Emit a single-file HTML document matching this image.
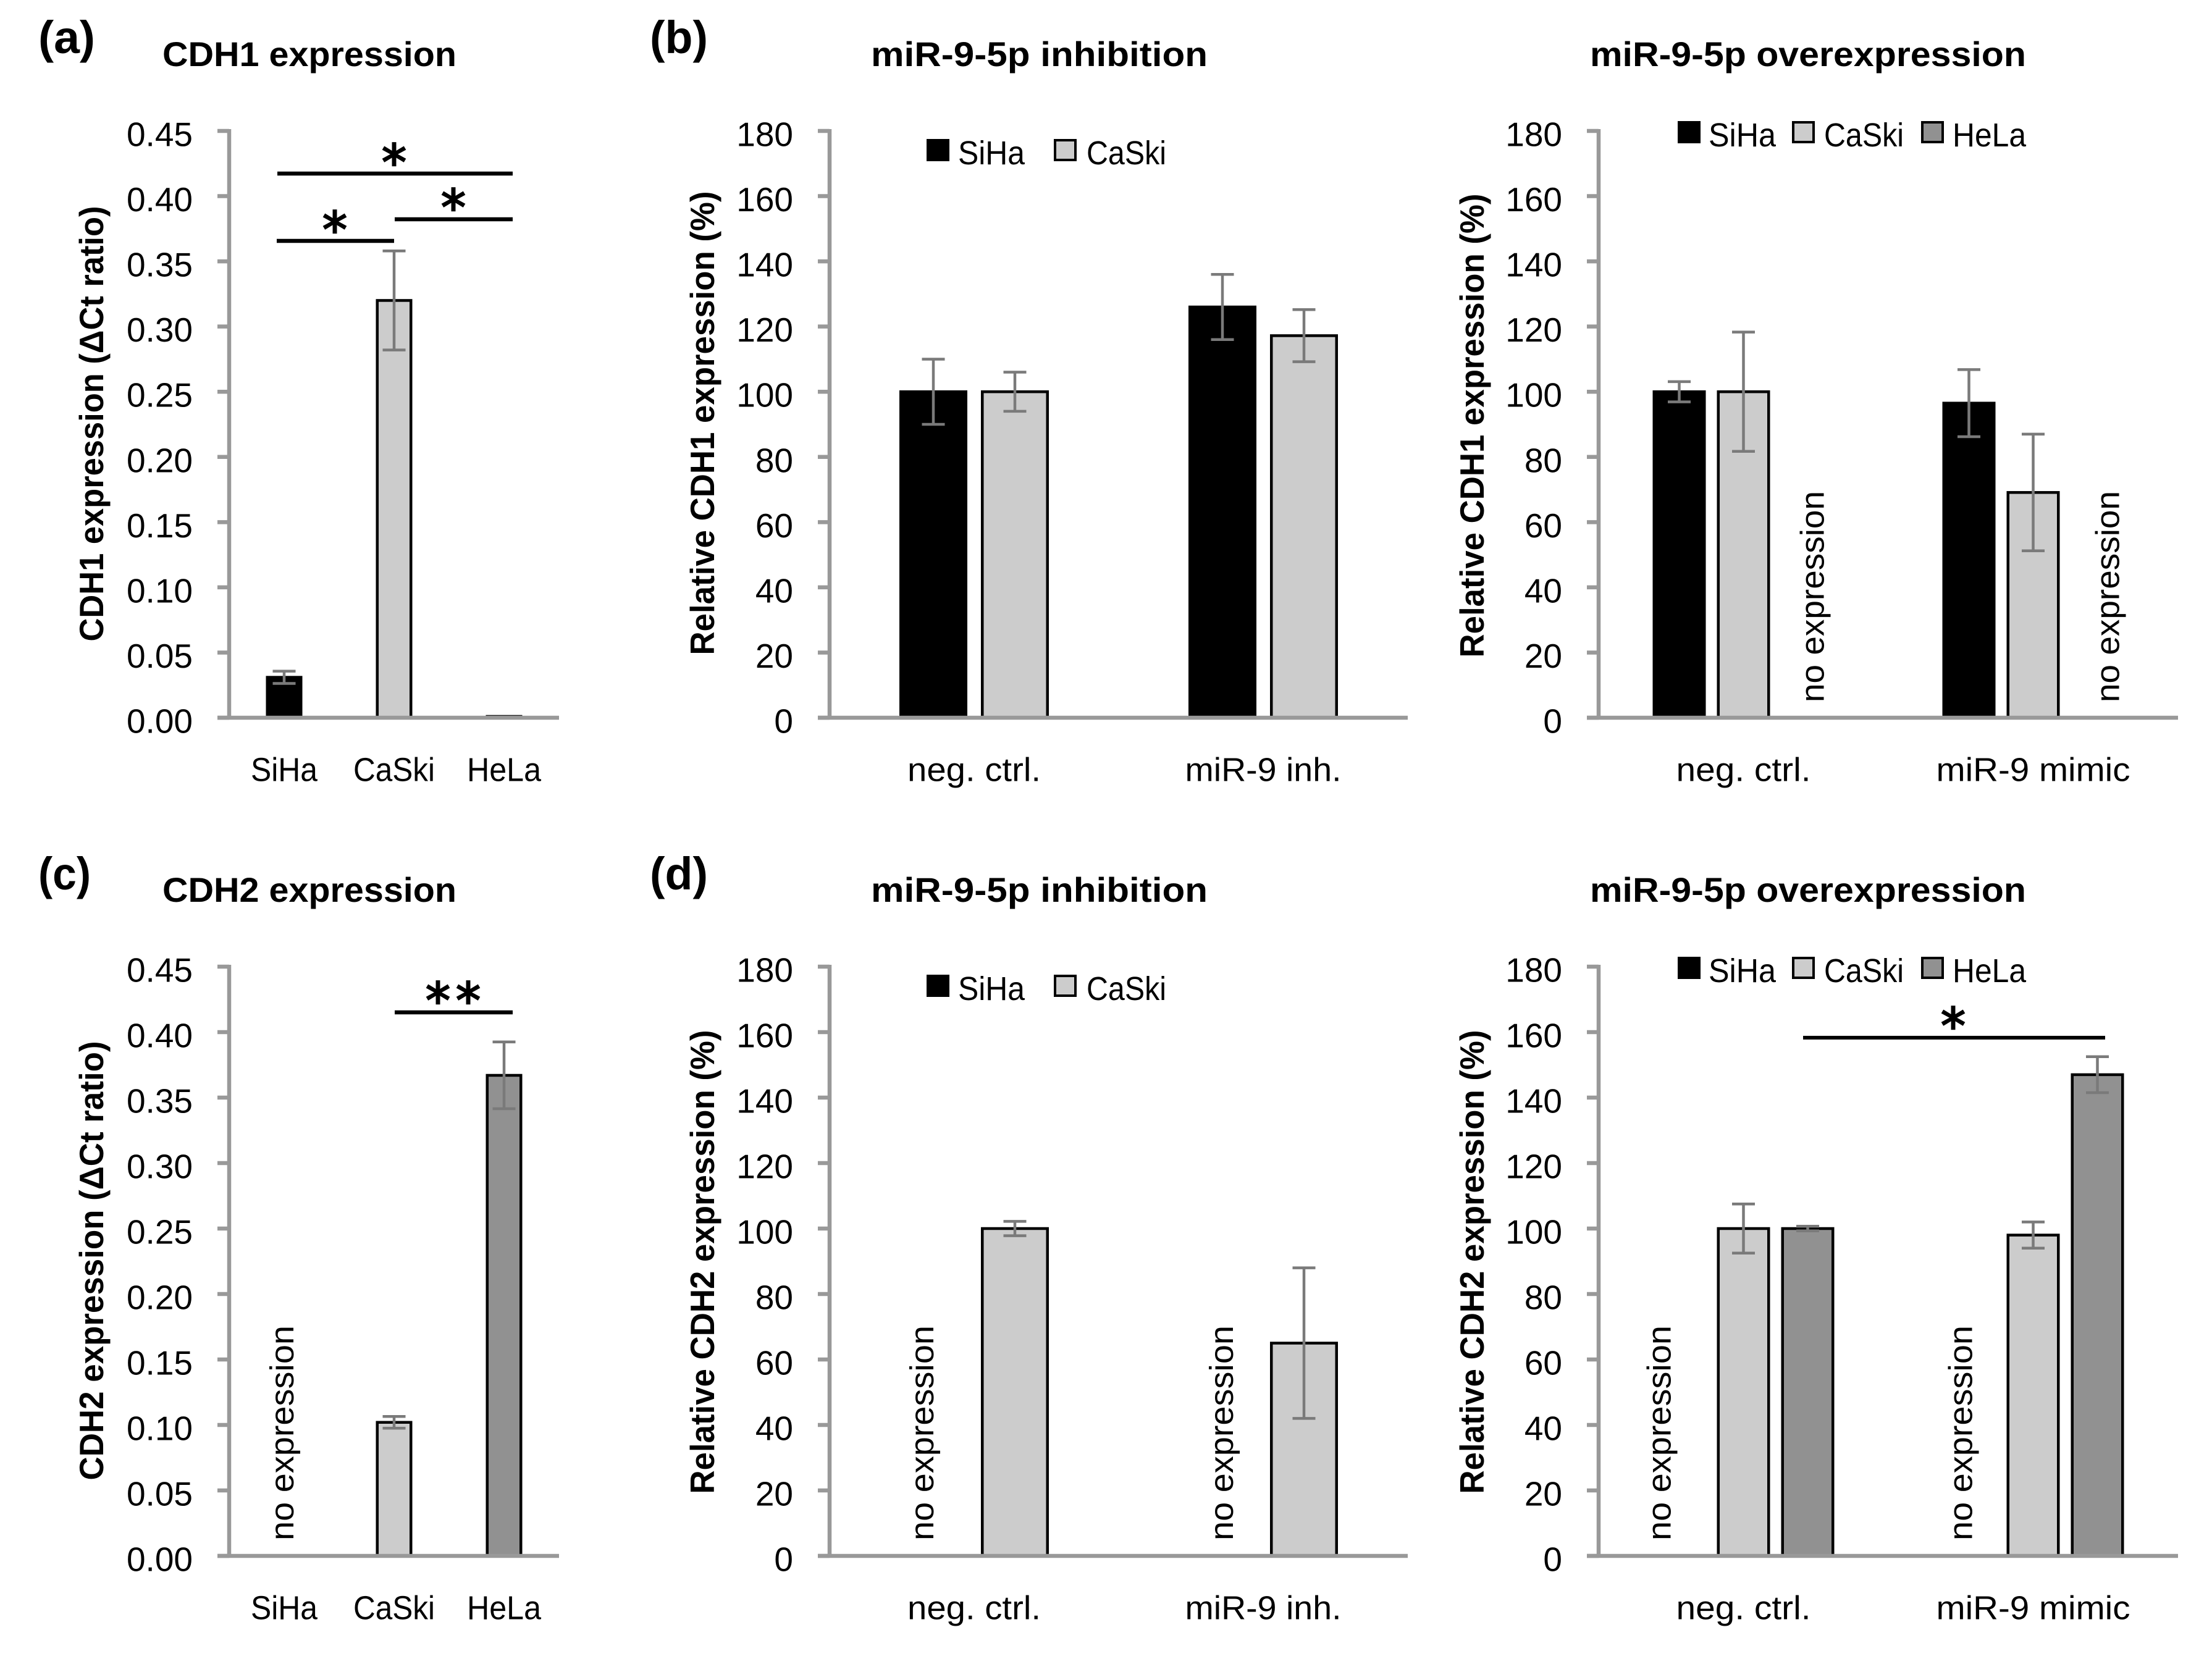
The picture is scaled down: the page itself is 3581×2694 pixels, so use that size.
<!DOCTYPE html>
<html lang="en">
<head>
<meta charset="utf-8">
<title>CDH1 and CDH2 expression charts</title>
<style>
html,body{margin:0;padding:0;background:#fff;}
svg{display:block;}
text{font-family:"Liberation Sans",sans-serif;fill:#000;}
.title,.ylabel,.plabel{font-weight:bold;}
.star{font-family:"DejaVu Sans",sans-serif;font-size:80px;text-anchor:middle;stroke:#000;stroke-width:2.5px;}
</style>
</head>
<body>
<svg id="figure" xmlns="http://www.w3.org/2000/svg" width="3581" height="2694" viewBox="0 0 3581 2694">
  <rect width="3581" height="2694" fill="#ffffff"/>

  <text class="plabel" x="62" y="86" font-size="74" textLength="92" lengthAdjust="spacingAndGlyphs">(a)</text>
  <text class="plabel" x="1052" y="86" font-size="74" textLength="94" lengthAdjust="spacingAndGlyphs">(b)</text>
  <text class="plabel" x="62" y="1440" font-size="74" textLength="85" lengthAdjust="spacingAndGlyphs">(c)</text>
  <text class="plabel" x="1052" y="1440" font-size="74" textLength="94" lengthAdjust="spacingAndGlyphs">(d)</text>

  <text class="title" x="263" y="107" font-size="56" textLength="476" lengthAdjust="spacingAndGlyphs">CDH1 expression</text>
  <text class="title" x="1410" y="107" font-size="56" textLength="545" lengthAdjust="spacingAndGlyphs">miR-9-5p inhibition</text>
  <text class="title" x="2574" y="107" font-size="56" textLength="706" lengthAdjust="spacingAndGlyphs">miR-9-5p overexpression</text>
  <text class="title" x="263" y="1460" font-size="56" textLength="476" lengthAdjust="spacingAndGlyphs">CDH2 expression</text>
  <text class="title" x="1410" y="1460" font-size="56" textLength="545" lengthAdjust="spacingAndGlyphs">miR-9-5p inhibition</text>
  <text class="title" x="2574" y="1460" font-size="56" textLength="706" lengthAdjust="spacingAndGlyphs">miR-9-5p overexpression</text>

  <text class="ylabel" transform="translate(167,686) rotate(-90)" text-anchor="middle" font-size="55" textLength="705" lengthAdjust="spacingAndGlyphs">CDH1 expression (ΔCt ratio)</text>
  <text class="ylabel" transform="translate(1156,685) rotate(-90)" text-anchor="middle" font-size="55" textLength="751" lengthAdjust="spacingAndGlyphs">Relative CDH1 expression (%)</text>
  <text class="ylabel" transform="translate(2402,689) rotate(-90)" text-anchor="middle" font-size="55" textLength="751" lengthAdjust="spacingAndGlyphs">Relative CDH1 expression (%)</text>
  <text class="ylabel" transform="translate(167,2041) rotate(-90)" text-anchor="middle" font-size="55" textLength="711" lengthAdjust="spacingAndGlyphs">CDH2 expression (ΔCt ratio)</text>
  <text class="ylabel" transform="translate(1156,2043) rotate(-90)" text-anchor="middle" font-size="55" textLength="751" lengthAdjust="spacingAndGlyphs">Relative CDH2 expression (%)</text>
  <text class="ylabel" transform="translate(2402,2043) rotate(-90)" text-anchor="middle" font-size="55" textLength="751" lengthAdjust="spacingAndGlyphs">Relative CDH2 expression (%)</text>

  <g id="panels"></g>

  <g stroke="#000" stroke-width="6.5">
    <line x1="449" y1="281" x2="830" y2="281"/>
    <line x1="639" y1="355" x2="830" y2="355"/>
    <line x1="448" y1="390" x2="638" y2="390"/>
  </g>
  <text class="star" x="638" y="291">*</text>
  <text class="star" x="734" y="364">*</text>
  <text class="star" x="542" y="400">*</text>

  <line x1="639" y1="1639" x2="830" y2="1639" stroke="#000" stroke-width="6.5"/>
  <text class="star" x="709" y="1648">*</text>
  <text class="star" x="758" y="1648">*</text>

  <line x1="2919" y1="1680" x2="3408" y2="1680" stroke="#000" stroke-width="6"/>
  <text class="star" x="3162" y="1689">*</text>
</svg>

<script>
// Tick labels
const ratioTicks = ['0.00','0.05','0.10','0.15','0.20','0.25','0.30','0.35','0.40','0.45'];
const percentTicks = ['0','20','40','60','80','100','120','140','160','180'];

// Categories
const cellLines = ['SiHa','CaSki','HeLa'];
const inhibitionCategories = ['neg. ctrl.','miR-9 inh.'];
const mimicCategories = ['neg. ctrl.','miR-9 mimic'];

// Panel (a) CDH1 baseline
const cdh1BaselineValues = [0.031, 0.32, 0.001];
const cdh1BaselineErrors = [0.0047, 0.038, 0];

// Panel (c) CDH2 baseline
const cdh2BaselineValues = [null, 0.102, 0.367];
const cdh2BaselineErrors = [null, 0.0045, 0.0255];

// Panel (b) CDH1 inhibition
const cdh1InhSiHa = [100, 126];
const cdh1InhSiHaErr = [10, 10];
const cdh1InhCaSki = [100, 117.2];
const cdh1InhCaSkiErr = [6, 8];

// Panel (b) CDH1 overexpression
const cdh1MimicSiHa = [100, 96.5];
const cdh1MimicSiHaErr = [3.1, 10.3];
const cdh1MimicCaSki = [100, 69.1];
const cdh1MimicCaSkiErr = [18.3, 17.9];
const cdh1MimicHeLa = [null, null];
const cdh1MimicHeLaErr = [null, null];

// Panel (d) CDH2 inhibition
const cdh2InhSiHa = [null, null];
const cdh2InhSiHaErr = [null, null];
const cdh2InhCaSki = [100, 65];
const cdh2InhCaSkiErr = [2.2, 23];

// Panel (d) CDH2 overexpression
const cdh2MimicSiHa = [null, null];
const cdh2MimicSiHaErr = [null, null];
const cdh2MimicCaSki = [100, 98];
const cdh2MimicCaSkiErr = [7.5, 4];
const cdh2MimicHeLa = [100, 147];
const cdh2MimicHeLaErr = [0.7, 5.5];

const BLACK = '#000000', GRAY = '#cccccc', DARK = '#919191';
const NS = 'http://www.w3.org/2000/svg';
const root = document.getElementById('panels');

function make(tag, attrs, parent) {
  const el = document.createElementNS(NS, tag);
  for (const k in attrs) el.setAttribute(k, attrs[k]);
  parent.appendChild(el);
  return el;
}

function drawPanel(p) {
  const g = make('g', {}, root);
  
  

  const maxVal = Number(p.ticks[p.ticks.length - 1]);
  const yScale = v => p.yBottom - (v / maxVal) * (p.yBottom - p.yTop);
  const catW = (p.x1 - p.x0) / p.categories.length;
  const catCenter = i => p.x0 + catW * (i + 0.5);
  const slots = p.series.length;
  const groupW = slots * p.barW + (slots - 1) * p.gap;
  const slotX = (c, s) => catCenter(c) - groupW / 2 + s * (p.barW + p.gap);

  // bars, error bars and "no expression" notes
  p.series.forEach((s, si) => {
    s.values.forEach((v, ci) => {
      if (v === null) {
        const note = make('text', {
          transform: 'translate(' + (slotX(ci, si) + p.barW / 2 + p.noteDx[ci]) + ',' + (p.yBottom - 25) + ') rotate(-90)',
          'font-size': 54, textLength: p.noteLen, lengthAdjust: 'spacingAndGlyphs'
        }, g);
        note.textContent = 'no expression';
        
        
        return;
      }
      const fill = Array.isArray(s.fill) ? s.fill[ci] : s.fill;
      const top = yScale(v);
      const bar = make('rect', {
        x: slotX(ci, si) + 2.25, y: top, width: p.barW - 4.5,
        height: Math.max(0, p.yBottom - top), fill: fill, stroke: '#000', 'stroke-width': 4.5
      }, g);
      
      

      const err = s.errors[ci];
      if (err > 0) {
        const cx = slotX(ci, si) + p.barW / 2;
        const errorBar = make('path', {
          d: 'M' + cx + ' ' + yScale(v + err) + 'V' + yScale(v - err) +
             'M' + (cx - 18.5) + ' ' + yScale(v + err) + 'h37' +
             'M' + (cx - 18.5) + ' ' + yScale(v - err) + 'h37',
          fill: 'none', stroke: '#7a7a7a', 'stroke-width': 4.5
        }, g);
        
        
      }
    });
  });

  // axes
  const yAxis = make('line', { x1: p.x0, x2: p.x0, y1: p.yTop - 3, y2: p.yBottom, stroke: '#999', 'stroke-width': 6.5 }, g);
  
  
  const xAxis = make('line', { x1: p.x0 - 19, x2: p.x1, y1: p.yBottom, y2: p.yBottom, stroke: '#999', 'stroke-width': 6.5 }, g);
  
  

  p.ticks.forEach(label => {
    const y = yScale(Number(label));
    const tick = make('line', { x1: p.x0 - 19, x2: p.x0, y1: y, y2: y, stroke: '#999', 'stroke-width': 6.5 }, g);
    
    
    const t = make('text', { x: p.x0 - 59, y: y + 24.5, 'text-anchor': 'end', 'font-size': 55 }, g);
    t.textContent = label;
    
    
  });

  p.categories.forEach((label, i) => {
    const t = make('text', {
      x: catCenter(i), y: p.yBottom + 102.5, 'text-anchor': 'middle', 'font-size': 54,
      textLength: p.catWidths[i], lengthAdjust: 'spacingAndGlyphs'
    }, g);
    t.textContent = label;
    
    
  });

  // legend
  (p.legend || []).forEach(entry => {
    const sw = make('rect', {
      x: entry.sx + 2, y: p.legendY + 2, width: 33, height: 32, fill: entry.fill, stroke: '#000', 'stroke-width': 4
    }, g);
    
    
    const t = make('text', {
      x: entry.tx, y: p.legendY + 41, 'font-size': 54, textLength: entry.tw, lengthAdjust: 'spacingAndGlyphs'
    }, g);
    t.textContent = entry.label;
    
    
  });
}

const topY = { yTop: 212, yBottom: 1162 };
const botY = { yTop: 1565, yBottom: 2519 };
const col1 = { x0: 371, x1: 905 };
const col2 = { x0: 1343, x1: 2279 };
const col3 = { x0: 2588, x1: 3526 };
const legend2 = [
  { label: 'SiHa', fill: BLACK, sx: 1500, tx: 1551, tw: 108 },
  { label: 'CaSki', fill: GRAY, sx: 1706, tx: 1759, tw: 129 }
];
const legend3 = [
  { label: 'SiHa', fill: BLACK, sx: 2716, tx: 2766, tw: 109 },
  { label: 'CaSki', fill: GRAY, sx: 2901, tx: 2953, tw: 129 },
  { label: 'HeLa', fill: DARK, sx: 3110, tx: 3161, tw: 119 }
];
const cellFills = [BLACK, GRAY, DARK];

drawPanel(Object.assign({
  name: 'panel-a-cdh1-expression', ticks: ratioTicks, categories: cellLines, catWidths: [108, 132, 120],
  barW: 59, gap: 0, noteDx: [0, 0, 0], noteLen: 348,
  series: [{ values: cdh1BaselineValues, errors: cdh1BaselineErrors, fill: cellFills }]
}, col1, topY));

drawPanel(Object.assign({
  name: 'panel-b-cdh1-inhibition', ticks: percentTicks, categories: inhibitionCategories, catWidths: [216, 253],
  barW: 110, gap: 22, noteDx: [0, 0], noteLen: 348, legend: legend2, legendY: 225,
  series: [
    { values: cdh1InhSiHa, errors: cdh1InhSiHaErr, fill: BLACK },
    { values: cdh1InhCaSki, errors: cdh1InhCaSkiErr, fill: GRAY }
  ]
}, col2, topY));

drawPanel(Object.assign({
  name: 'panel-b-cdh1-overexpression', ticks: percentTicks, categories: mimicCategories, catWidths: [218, 314],
  barW: 86, gap: 18, noteDx: [26, 35], noteLen: 342, legend: legend3, legendY: 196,
  series: [
    { values: cdh1MimicSiHa, errors: cdh1MimicSiHaErr, fill: BLACK },
    { values: cdh1MimicCaSki, errors: cdh1MimicCaSkiErr, fill: GRAY },
    { values: cdh1MimicHeLa, errors: cdh1MimicHeLaErr, fill: DARK }
  ]
}, col3, topY));

drawPanel(Object.assign({
  name: 'panel-c-cdh2-expression', ticks: ratioTicks, categories: cellLines, catWidths: [108, 132, 120],
  barW: 59, gap: 0, noteDx: [15, 0, 0], noteLen: 348,
  series: [{ values: cdh2BaselineValues, errors: cdh2BaselineErrors, fill: cellFills }]
}, col1, botY));

drawPanel(Object.assign({
  name: 'panel-d-cdh2-inhibition', ticks: percentTicks, categories: inhibitionCategories, catWidths: [216, 253],
  barW: 110, gap: 22, noteDx: [0, 17], noteLen: 348, legend: legend2, legendY: 1578,
  series: [
    { values: cdh2InhSiHa, errors: cdh2InhSiHaErr, fill: BLACK },
    { values: cdh2InhCaSki, errors: cdh2InhCaSkiErr, fill: GRAY }
  ]
}, col2, botY));

drawPanel(Object.assign({
  name: 'panel-d-cdh2-overexpression', ticks: percentTicks, categories: mimicCategories, catWidths: [218, 314],
  barW: 86, gap: 18, noteDx: [-14, 5], noteLen: 348, legend: legend3, legendY: 1549,
  series: [
    { values: cdh2MimicSiHa, errors: cdh2MimicSiHaErr, fill: BLACK },
    { values: cdh2MimicCaSki, errors: cdh2MimicCaSkiErr, fill: GRAY },
    { values: cdh2MimicHeLa, errors: cdh2MimicHeLaErr, fill: DARK }
  ]
}, col3, botY));
</script>
</body>
</html>
